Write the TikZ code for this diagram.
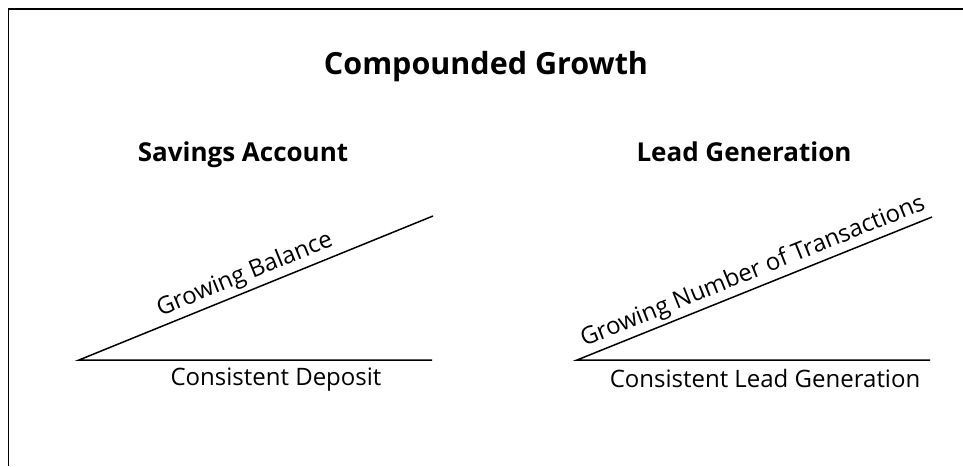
\documentclass[tikz,border=0pt]{standalone}
\usepackage{fontspec}
\setmainfont{Open Sans}
\begin{document}
\begin{tikzpicture}[x=1pt,y=-1pt,
  frameline/.style={line width=1.3pt},
  wedge/.style={line width=1.5pt},
  titletext/.style={font=\fontsize{30.5}{34}\selectfont\bfseries, inner sep=0pt},
  headtext/.style={font=\fontsize{26}{30}\selectfont\bfseries, inner sep=0pt},
  labeltext/.style={font=\fontsize{24}{28}\selectfont, inner sep=0pt}]
\useasboundingbox (0,0) rectangle (963,466);
\coordinate (ftr) at (963,9);
\coordinate (ftl) at (8.5,9);
\coordinate (fbl) at (8.5,466);
\draw[frameline] (ftr) -- (ftl) -- (fbl);
\node[titletext, anchor=base] (title) at (486,74) {Compounded Growth};
\node[headtext, anchor=base] (hsav) at (243,161) {Savings Account};
\node[headtext, anchor=base] (hlead) at (744,161) {Lead Generation};
% left wedge
\coordinate (la) at (79,360);
\coordinate (lb) at (432,360);
\coordinate (lc) at (433,216);
\draw[wedge] (lb) -- (la) -- (lc);
\node[labeltext, anchor=base] (ldep) at (276,385) {Consistent Deposit};
\node[labeltext, rotate=22.2] (lbal) at (245,275) {Growing Balance};
% right wedge
\coordinate (ra) at (577,360);
\coordinate (rb) at (930,360);
\coordinate (rc) at (932,217);
\draw[wedge] (rb) -- (ra) -- (rc);
\node[labeltext, anchor=base] (rdep) at (765,387) {Consistent Lead Generation};
\node[labeltext, rotate=21.9] (rbal) at (753,272) {Growing Number of Transactions};
\end{tikzpicture}
\end{document}
